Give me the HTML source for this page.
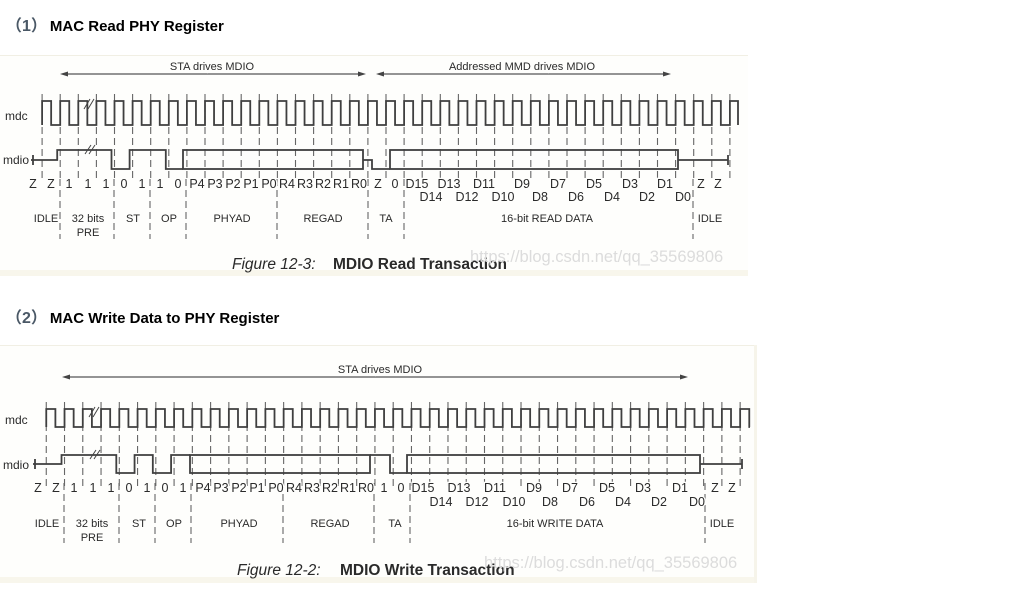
<!DOCTYPE html>
<html><head><meta charset="utf-8">
<style>
html,body{margin:0;padding:0;background:#fff;}
body{width:1035px;height:594px;overflow:hidden;position:relative;font-family:"Liberation Sans",sans-serif;}
.h{position:absolute;left:6px;font-size:15px;line-height:20px;height:20px;font-weight:bold;color:#000;font-family:"Liberation Sans","Noto Sans CJK SC",sans-serif;}
.h span{color:#4a5866;font-weight:bold;font-size:16px;line-height:20px;margin-right:3px;vertical-align:top;}
svg{position:absolute;left:0;top:0;}
svg text{font-family:"Liberation Sans",sans-serif;fill:#2a2a2a;}
</style></head><body>
<div class="h" style="top:17px"><span>（1）</span>MAC Read PHY Register</div>
<div class="h" style="top:309px"><span>（2）</span>MAC Write Data to PHY Register</div>
<svg id="s" width="1035" height="594" xmlns="http://www.w3.org/2000/svg">
<rect x="0" y="55" width="748" height="221" fill="#fefefc"/>
<line x1="0" y1="55.5" x2="748" y2="55.5" stroke="#f1efe4"/>
<rect x="0" y="270" width="748" height="6" fill="#f8f6ec"/>
<rect x="0" y="345" width="757" height="238" fill="#fefefc"/>
<line x1="0" y1="345.5" x2="757" y2="345.5" stroke="#f1efe4"/>
<rect x="0" y="577" width="757" height="6" fill="#f8f6ec"/>
<rect x="754" y="345" width="3" height="238" fill="#f6f4ea"/>
<g id="g1"></g><g id="g2"></g>
<g id="txt">
<g font-size="11">
<text x="212" y="70" text-anchor="middle">STA drives MDIO</text>
<text x="522" y="70" text-anchor="middle">Addressed MMD drives MDIO</text>
</g>
<g font-size="12">
<text x="5" y="120">mdc</text><text x="3" y="164">mdio</text>
</g>
<g font-size="12.5" text-anchor="middle">
<text x="33" y="188">Z</text><text x="51" y="188">Z</text><text x="69" y="188">1</text><text x="88" y="188">1</text><text x="106" y="188">1</text><text x="124" y="188">0</text><text x="142" y="188">1</text><text x="160" y="188">1</text><text x="178" y="188">0</text>
<text x="197" y="188">P4</text><text x="215" y="188">P3</text><text x="233" y="188">P2</text><text x="251" y="188">P1</text><text x="269" y="188">P0</text>
<text x="287" y="188">R4</text><text x="305" y="188">R3</text><text x="323" y="188">R2</text><text x="341" y="188">R1</text><text x="359" y="188">R0</text>
<text x="378" y="188">Z</text><text x="395" y="188">0</text>
<text x="417" y="188">D15</text><text x="449" y="188">D13</text><text x="484" y="188">D11</text><text x="522" y="188">D9</text><text x="558" y="188">D7</text><text x="594" y="188">D5</text><text x="630" y="188">D3</text><text x="665" y="188">D1</text>
<text x="431" y="201">D14</text><text x="467" y="201">D12</text><text x="503" y="201">D10</text><text x="540" y="201">D8</text><text x="576" y="201">D6</text><text x="612" y="201">D4</text><text x="647" y="201">D2</text><text x="683" y="201">D0</text>
<text x="701" y="188">Z</text><text x="718" y="188">Z</text>
</g>
<g font-size="11" text-anchor="middle">
<text x="46" y="222">IDLE</text><text x="88" y="222">32 bits</text><text x="88" y="236">PRE</text><text x="133" y="222">ST</text><text x="169" y="222">OP</text><text x="232" y="222">PHYAD</text><text x="323" y="222">REGAD</text><text x="386" y="222">TA</text><text x="547" y="222">16-bit READ DATA</text><text x="710" y="222">IDLE</text>
</g>
<text x="232" y="269" font-size="15.5" font-style="italic" fill="#111">Figure 12-3:</text>
<text x="333" y="269" font-size="15.5" font-weight="bold" fill="#111">MDIO Read Transaction</text>
<text x="470" y="262" font-size="16.5" style="fill:#dcdcdc">https://blog.csdn.net/qq_35569806</text>
<g font-size="11">
<text x="380" y="373" text-anchor="middle">STA drives MDIO</text>
</g>
<g font-size="12">
<text x="5" y="424">mdc</text><text x="3" y="469">mdio</text>
</g>
<g font-size="12.5" text-anchor="middle">
<text x="38" y="492">Z</text><text x="56" y="492">Z</text><text x="74" y="492">1</text><text x="93" y="492">1</text><text x="111" y="492">1</text><text x="129" y="492">0</text><text x="147" y="492">1</text><text x="165" y="492">0</text><text x="183" y="492">1</text>
<text x="203" y="492">P4</text><text x="221" y="492">P3</text><text x="239" y="492">P2</text><text x="257" y="492">P1</text><text x="276" y="492">P0</text>
<text x="294" y="492">R4</text><text x="312" y="492">R3</text><text x="330" y="492">R2</text><text x="348" y="492">R1</text><text x="366" y="492">R0</text>
<text x="384" y="492">1</text><text x="401" y="492">0</text>
<text x="423" y="492">D15</text><text x="459" y="492">D13</text><text x="495" y="492">D11</text><text x="534" y="492">D9</text><text x="570" y="492">D7</text><text x="607" y="492">D5</text><text x="643" y="492">D3</text><text x="680" y="492">D1</text>
<text x="441" y="506">D14</text><text x="477" y="506">D12</text><text x="514" y="506">D10</text><text x="550" y="506">D8</text><text x="587" y="506">D6</text><text x="623" y="506">D4</text><text x="659" y="506">D2</text><text x="697" y="506">D0</text>
<text x="715" y="492">Z</text><text x="732" y="492">Z</text>
</g>
<g font-size="11" text-anchor="middle">
<text x="47" y="527">IDLE</text><text x="92" y="527">32 bits</text><text x="92" y="541">PRE</text><text x="139" y="527">ST</text><text x="174" y="527">OP</text><text x="239" y="527">PHYAD</text><text x="330" y="527">REGAD</text><text x="395" y="527">TA</text><text x="555" y="527">16-bit WRITE DATA</text><text x="722" y="527">IDLE</text>
</g>
<text x="237" y="575" font-size="15.5" font-style="italic" fill="#111">Figure 12-2:</text>
<text x="340" y="575" font-size="15.5" font-weight="bold" fill="#111">MDIO Write Transaction</text>
<text x="484" y="568" font-size="16.5" style="fill:#dcdcdc">https://blog.csdn.net/qq_35569806</text>
</g>
</svg>
<script>
var NS="http://www.w3.org/2000/svg";
function el(g,t,a){var e=document.createElementNS(NS,t);for(var k in a)e.setAttribute(k,a[k]);g.appendChild(e);return e;}
function fig(gid,o){
 var g=document.getElementById(gid);
 var S="#3f3f3f";
 o.arrows.forEach(function(a){
  el(g,"line",{x1:a[0]+5,y1:o.ay,x2:a[1]-5,y2:o.ay,stroke:"#555","stroke-width":1.2});
  if(a[2])el(g,"polygon",{points:(a[0])+","+o.ay+" "+(a[0]+8)+","+(o.ay-2.5)+" "+(a[0]+8)+","+(o.ay+2.5),fill:"#444"});
  if(a[3])el(g,"polygon",{points:(a[1])+","+o.ay+" "+(a[1]-8)+","+(o.ay-2.5)+" "+(a[1]-8)+","+(o.ay+2.5),fill:"#444"});
 });
 for(var k=1;;k++){var x=o.x0+k*o.p; if(x>o.cend)break;
  el(g,"line",{x1:x,y1:o.ch-7,x2:x,y2:o.ml+13,stroke:"#666","stroke-width":1.1,"stroke-dasharray":"7,4"});}
 o.secs.forEach(function(x){el(g,"line",{x1:x,y1:o.ml+10,x2:x,y2:o.ml+70,stroke:"#666","stroke-width":1.1,"stroke-dasharray":"7,4"});});
 var d="M"+(o.x0+o.p)+","+o.cl, x=o.x0+o.p;
 while(x<o.cend){d+=" V"+o.ch+" H"+Math.min(x+o.p/2,o.cend)+" V"+o.cl; x+=o.p; if(x<o.cend) d+=" H"+x; else d+=" H"+o.cend;}
 el(g,"path",{d:d,fill:"none",stroke:S,"stroke-width":1.8});
 el(g,"path",{d:o.md,fill:"none",stroke:S,"stroke-width":1.8});
 o.boxes.forEach(function(b){el(g,"rect",{x:b[0],y:o.mh,width:b[1]-b[0],height:o.ml-o.mh,fill:"none",stroke:S,"stroke-width":1.8});});
 el(g,"path",{d:"M"+(o.br-4)+","+(o.ch+8)+" L"+(o.br+2)+","+(o.ch-2)+" M"+(o.br)+","+(o.ch+8)+" L"+(o.br+6)+","+(o.ch-2),stroke:"#444","stroke-width":1,fill:"none"});
 el(g,"path",{d:"M"+(o.br-3)+","+(o.mh+4)+" L"+(o.br+3)+","+(o.mh-5)+" M"+(o.br+1)+","+(o.mh+4)+" L"+(o.br+7)+","+(o.mh-5),stroke:"#444","stroke-width":1,fill:"none"});
}
(function(){var x0=24,p=18.1,mh=150,ml=169,mm=160;
 var b=function(i){return x0+i*p-3;};
 fig("g1",{x0:x0,p:p,cend:738,ch:101,cl:125,mh:mh,ml:ml,ay:74,br:88,
 arrows:[[60,366,1,1],[376,671,1,1]],
 secs:[60,114,150,186,277,368,404,693],
 boxes:[[183,363],[390,678]],
 md:"M31,"+mm+" H"+b(2)+" V"+mh+" H"+b(5)+" V"+ml+" H"+b(6)+" V"+mh+" H"+b(8)+" V"+ml+" H183 M363,"+mm+" H372 V"+ml+" H390 M678,"+mm+" H728 M728,"+(mm-5)+" V"+(mm+5)+" M33,"+(mm-5)+" V"+(mm+5)});
})();
(function(){var x0=28,p=18.26,mh=455,ml=473,mm=464;
 var b=function(i){return x0+i*p-3;};
 fig("g2",{x0:x0,p:p,cend:750,ch:409,cl:427,mh:mh,ml:ml,ay:377,br:93,
 arrows:[[62,688,1,1]],
 secs:[64,119,155,191,283,374,410,705],
 boxes:[[190,370],[407,700]],
 md:"M33,"+mm+" H"+b(2)+" V"+mh+" H"+b(5)+" V"+ml+" H"+b(6)+" V"+mh+" H"+b(7)+" V"+ml+" H"+b(8)+" V"+mh+" H190 M370,"+mh+" H390 V"+ml+" H407 M700,"+mm+" H742 M742,"+(mm-5)+" V"+(mm+5)+" M35,"+(mm-5)+" V"+(mm+5)});
})();
document.querySelectorAll('#txt g[font-size="12.5"] text, #txt g[font-size="11"] text').forEach(function(t){
 t.setAttribute("stroke","#fefefc");t.setAttribute("stroke-width","2.5");t.setAttribute("paint-order","stroke");});
</script>
</body></html>
